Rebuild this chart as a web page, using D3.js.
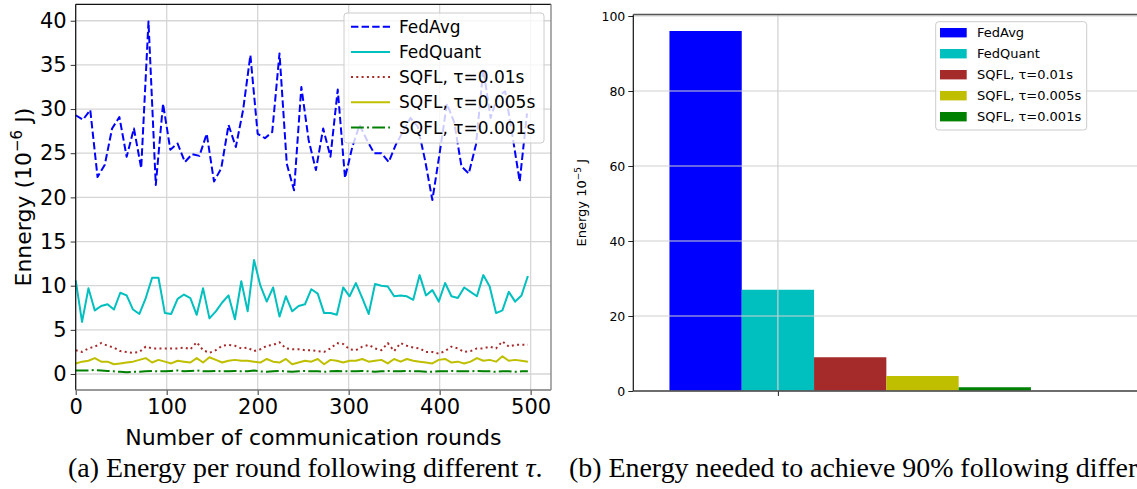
<!DOCTYPE html>
<html><head><meta charset="utf-8">
<script src="https://cdn.jsdelivr.net/npm/d3@7"></script>
<style>body{margin:0;background:#fff}svg{display:block}</style>
</head><body>
<svg id="c" width="1137" height="489"></svg>
<script>
// ---------- data (left: energy per round) ----------
const roundsAvg = [0,8,16,24,32,40,48,56,64,72,80,88,96,104,112,120,128,136,144,152,160,168,176,184,192,200,208,216,224,232,240,248,256,264,272,280,288,296,304,312,320,328,336,344,352,360,368,376,384,392,400,408,416,424,432,440,448,456,464,472,480,488,496];
const fedAvg = [29.3,28.8,29.9,22.3,23.7,27.8,29.1,24.6,27.8,23.3,39.9,21.4,30.6,25.4,26.1,24.0,24.9,24.7,27.2,21.8,23.3,28.2,25.7,29.9,36.1,27.2,26.7,27.4,36.3,23.8,20.8,32.5,26.5,23.1,27.8,24.6,32.2,22.2,25.7,28.2,26.5,25.0,25.0,24.0,26.0,27.5,29.0,28.0,24.2,19.7,25.0,30.6,28.5,23.5,22.7,26.0,34.5,29.0,31.5,32.0,27.0,21.8,29.5];
const rounds = [0,7,14,21,28,35,42,49,56,63,70,77,84,91,98,105,112,119,126,133,140,147,154,161,168,175,182,189,196,203,210,217,224,231,238,245,252,259,266,273,280,287,294,301,308,315,322,329,336,343,350,357,364,371,378,385,392,399,406,413,420,427,434,441,448,455,462,469,476,483,490,497];
const fedQuant = [10.6,5.9,9.7,7.2,7.7,7.9,7.3,9.2,8.9,7.3,6.8,8.6,10.9,10.9,6.9,6.8,8.5,9.0,8.6,6.7,9.7,6.3,7.1,8.1,8.9,6.2,10.5,7.1,12.9,10.0,8.2,9.8,6.5,8.8,7.1,7.7,7.9,9.6,9.1,6.9,6.9,6.7,9.8,8.8,10.3,8.6,6.8,10.2,10.0,9.9,8.8,8.9,8.8,8.4,11.2,8.9,9.5,8.2,10.3,8.8,8.6,9.8,9.3,8.8,11.2,9.9,6.9,7.2,9.3,8.2,8.9,11.1];
const sqfl001 = [2.7,2.5,2.9,3.1,3.5,3.2,3.0,2.6,2.5,2.4,2.5,3.1,2.9,2.9,2.9,2.9,2.9,3.0,2.8,3.6,2.7,2.4,2.7,3.2,3.3,3.2,2.9,3.0,2.6,2.8,3.2,3.3,3.6,2.9,2.8,2.8,2.7,2.7,2.6,2.5,2.9,3.5,3.4,2.8,2.7,3.1,3.3,2.9,2.7,3.5,2.6,3.5,3.2,3.0,2.9,2.5,2.5,2.3,2.6,3.1,2.9,2.5,2.6,2.9,2.9,3.1,2.9,3.7,3.1,3.3,3.3,3.3];
const sqfl0005 = [1.2,1.4,1.5,1.8,1.4,1.4,1.1,1.2,1.3,1.4,1.6,1.8,1.3,1.6,1.4,1.2,1.5,1.4,1.3,1.8,1.3,1.9,1.6,1.3,1.5,1.6,1.5,1.5,1.4,1.3,1.7,1.4,1.3,1.7,1.1,1.3,1.5,1.4,1.7,1.1,1.6,1.5,1.3,1.5,1.5,1.7,1.4,1.5,1.6,1.2,1.7,1.4,1.7,1.5,1.4,1.3,1.2,1.6,1.7,1.3,1.4,1.2,1.4,1.8,1.5,1.6,1.4,2.0,1.5,1.6,1.5,1.4];
const sqfl0001 = [0.4,0.4,0.4,0.45,0.4,0.35,0.3,0.25,0.2,0.25,0.25,0.3,0.35,0.3,0.3,0.35,0.4,0.3,0.35,0.4,0.3,0.3,0.35,0.3,0.3,0.35,0.3,0.3,0.4,0.3,0.25,0.3,0.35,0.3,0.25,0.3,0.35,0.3,0.3,0.25,0.3,0.35,0.3,0.3,0.3,0.35,0.3,0.25,0.3,0.35,0.3,0.3,0.35,0.3,0.3,0.25,0.25,0.3,0.3,0.35,0.3,0.3,0.3,0.35,0.3,0.3,0.25,0.3,0.3,0.25,0.3,0.3];
const xTicksL = [0,100,200,300,400,500];
const yTicksL = [0,5,10,15,20,25,30,35,40];
const seriesNames = ["FedAvg","FedQuant","SQFL, \u03c4=0.01s","SQFL, \u03c4=0.005s","SQFL, \u03c4=0.001s"];

// ---------- data (right: energy to reach 90%) ----------
const barMethods = ["FedAvg","FedQuant","SQFL, \u03c4=0.01s","SQFL, \u03c4=0.005s","SQFL, \u03c4=0.001s"];
const barValues = [96, 27, 9, 4, 1];
const yTicksR = [0,20,40,60,80,100];

// ---------- styles ----------
const colors = ["#0000ff","#00bfbf","#a52a2a","#bfbf00","#008000"];
const dashes = ["7.4,3.2", null, "2,3.3", null, "12.8,3.2,2,3.2"];
const FONT = "DejaVu Sans, sans-serif";

const svg = d3.select("#c");
svg.append("rect").attr("width",1137).attr("height",489).attr("fill","#fff");

// ================= LEFT CHART =================
const L = {left:75.7, right:551, top:4.3, bottom:390};
const x = d3.scaleLinear().domain([0, 522.4]).range([L.left, L.right]);
const y = d3.scaleLinear().domain([-1.81, 41.86]).range([L.bottom, L.top]);
const gL = svg.append("g");

// grid
gL.append("g").selectAll("line").data(xTicksL).join("line")
  .attr("x1",d=>x(d)).attr("x2",d=>x(d)).attr("y1",L.top).attr("y2",L.bottom)
  .attr("stroke","#d6d6d6").attr("stroke-width",1.3);
gL.append("g").selectAll("line").data(yTicksL).join("line")
  .attr("y1",d=>y(d)).attr("y2",d=>y(d)).attr("x1",L.left).attr("x2",L.right)
  .attr("stroke","#d6d6d6").attr("stroke-width",1.3);

// lines
const seriesL = [
  {x: roundsAvg, v: fedAvg},
  {x: rounds, v: fedQuant},
  {x: rounds, v: sqfl001},
  {x: rounds, v: sqfl0005},
  {x: rounds, v: sqfl0001}
];
const line = d3.line().x(d=>x(d[0])).y(d=>y(d[1]));
seriesL.forEach((s,i)=>{
  const pts = s.x.map((r,j)=>[r, s.v[j]]);
  gL.append("path").attr("d", line(pts)).attr("fill","none")
    .attr("stroke", colors[i]).attr("stroke-width", 2)
    .attr("stroke-dasharray", dashes[i]).attr("stroke-linejoin","round");
});

// axes
const axB = gL.append("g").attr("transform",`translate(0,${L.bottom})`)
  .call(d3.axisBottom(x).tickValues(xTicksL).tickSize(5).tickPadding(4));
const axLft = gL.append("g").attr("transform",`translate(${L.left},0)`)
  .call(d3.axisLeft(y).tickValues(yTicksL).tickSize(5).tickPadding(4));
[axB, axLft].forEach(a=>{
  a.select(".domain").remove();
  a.selectAll("text").attr("font-family",FONT).attr("font-size",21).attr("fill","#000");
  a.selectAll("line").attr("stroke","#333");
});

// frame
gL.append("line").attr("x1",L.left).attr("x2",L.left).attr("y1",L.top).attr("y2",L.bottom).attr("stroke","#111").attr("stroke-width",1.2);
gL.append("line").attr("x1",L.left).attr("x2",L.right).attr("y1",L.top).attr("y2",L.top).attr("stroke","#111").attr("stroke-width",1.2);
gL.append("line").attr("x1",L.left).attr("x2",L.right).attr("y1",L.bottom).attr("y2",L.bottom).attr("stroke","#777").attr("stroke-width",1.6);
gL.append("line").attr("x1",L.right).attr("x2",L.right).attr("y1",L.top).attr("y2",L.bottom).attr("stroke","#888").attr("stroke-width",1.4);

// labels
gL.append("text").attr("x",(L.left+L.right)/2).attr("y",445).attr("text-anchor","middle")
  .attr("font-family",FONT).attr("font-size",22).text("Number of communication rounds");
const yl = gL.append("text").attr("transform",`translate(31,${(L.top+L.bottom)/2}) rotate(-90)`)
  .attr("text-anchor","middle").attr("font-family",FONT).attr("font-size",22);
yl.append("tspan").text("Ennergy (10");
yl.append("tspan").attr("font-size",15).attr("dy",-9).text("\u22126");
yl.append("tspan").attr("dy",9).text(" J)");

// legend
const lg = gL.append("g");
lg.append("rect").attr("x",344).attr("y",13).attr("width",200).attr("height",130).attr("rx",3)
  .attr("fill","#fff").attr("fill-opacity",0.8).attr("stroke","#cccccc");
seriesNames.forEach((n,i)=>{
  const cy = 26.7 + i*25.2;
  lg.append("line").attr("x1",351).attr("x2",390).attr("y1",cy).attr("y2",cy)
    .attr("stroke",colors[i]).attr("stroke-width",2).attr("stroke-dasharray",dashes[i]);
  lg.append("text").attr("x",399).attr("y",cy).attr("dy","0.36em")
    .attr("font-family",FONT).attr("font-size",17).text(n);
});

// ================= RIGHT CHART =================
const R = {left:633.3, right:1139.4, top:14.5, bottom:391};
const barW = 0.15;
const xR = d3.scaleLinear().domain([-0.3, 0.75]).range([R.left, R.right]);
const yR = d3.scaleLinear().domain([0, 100.4]).range([R.bottom, R.top]);
const gR = svg.append("g");

gR.selectAll("rect.bar").data(barValues).join("rect").attr("class","bar")
  .attr("x",(d,i)=>xR((i-1)*barW - barW/2))
  .attr("width",(d,i)=>xR((i-1)*barW + barW/2) - xR((i-1)*barW - barW/2))
  .attr("y",d=>yR(d)).attr("height",d=>yR(0)-yR(d))
  .attr("fill",(d,i)=>colors[i]);

// grid on top
gR.append("g").selectAll("line").data(yTicksR).join("line")
  .attr("y1",d=>yR(d)).attr("y2",d=>yR(d)).attr("x1",R.left).attr("x2",R.right)
  .attr("stroke","#d0d0d0").attr("stroke-width",1.2);
gR.append("line").attr("x1",xR(0)).attr("x2",xR(0)).attr("y1",R.top).attr("y2",R.bottom)
  .attr("stroke","#d0d0d0").attr("stroke-width",1.2);

const axRL = gR.append("g").attr("transform",`translate(${R.left},0)`)
  .call(d3.axisLeft(yR).tickValues(yTicksR).tickSize(5).tickPadding(3));
const axRB = gR.append("g").attr("transform",`translate(0,${R.bottom})`)
  .call(d3.axisBottom(xR).tickValues([0]).tickSize(5).tickFormat(""));
[axRL, axRB].forEach(a=>{
  a.select(".domain").remove();
  a.selectAll("text").attr("font-family",FONT).attr("font-size",12.5).attr("fill","#000");
  a.selectAll("line").attr("stroke","#222");
});
gR.append("line").attr("x1",R.left).attr("x2",R.left).attr("y1",R.top).attr("y2",R.bottom).attr("stroke","#111").attr("stroke-width",1.2);
gR.append("line").attr("x1",R.left).attr("x2",R.right).attr("y1",R.top).attr("y2",R.top).attr("stroke","#555").attr("stroke-width",1.4);
gR.append("line").attr("x1",R.left).attr("x2",R.right).attr("y1",R.bottom).attr("y2",R.bottom).attr("stroke","#444").attr("stroke-width",1.4);

const ylR = gR.append("text").attr("transform",`translate(586,${(R.top+R.bottom)/2}) rotate(-90)`)
  .attr("text-anchor","middle").attr("font-family",FONT).attr("font-size",13);
ylR.append("tspan").text("Energy 10");
ylR.append("tspan").attr("font-size",9).attr("dy",-5).text("\u22125");
ylR.append("tspan").attr("dy",5).text(" J");

const lgR = gR.append("g");
lgR.append("rect").attr("x",935.7).attr("y",21.7).attr("width",151).attr("height",108.3).attr("rx",3)
  .attr("fill","#fff").attr("fill-opacity",0.8).attr("stroke","#cccccc");
barMethods.forEach((n,i)=>{
  const cy = 32.7 + i*21;
  lgR.append("rect").attr("x",940).attr("y",cy-4.7).attr("width",26.7).attr("height",9.4).attr("fill",colors[i]);
  lgR.append("text").attr("x",977).attr("y",cy).attr("dy","0.36em")
    .attr("font-family",FONT).attr("font-size",13).text(n);
});

// ================= CAPTIONS =================
const SERIF = "Liberation Serif, Times New Roman, serif";
const capA = svg.append("text").attr("x",68).attr("y",477).attr("font-family",SERIF).attr("font-size",27.9);
capA.append("tspan").text("(a) Energy per round following different ");
capA.append("tspan").attr("font-style","italic").text("\u03c4");
capA.append("tspan").text(".");
svg.append("text").attr("x",569).attr("y",477).attr("font-family",SERIF).attr("font-size",27.9)
  .text("(b) Energy needed to achieve 90% following different \u03c4.");
</script>
</body></html>
